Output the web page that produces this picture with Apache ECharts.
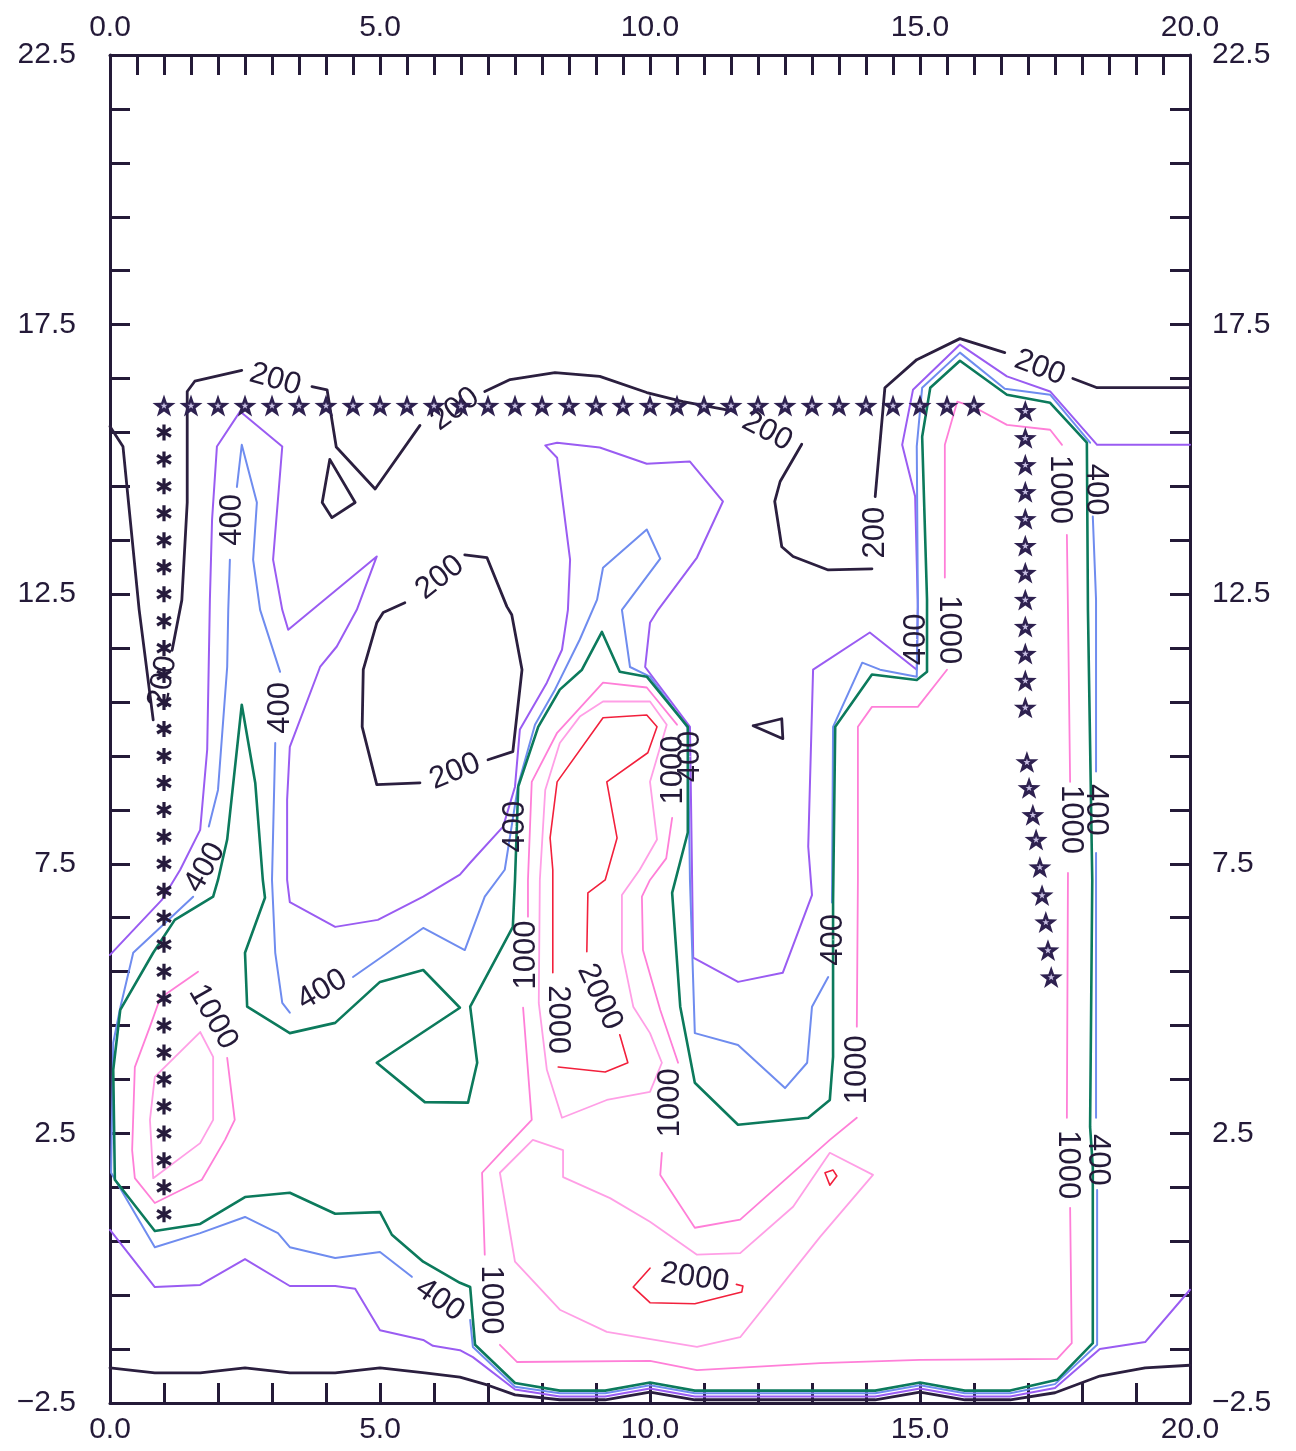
<!DOCTYPE html>
<html><head><meta charset="utf-8">
<script src="https://cdn.jsdelivr.net/npm/echarts@6/dist/echarts.min.js"></script>
<style>html,body{margin:0;padding:0;background:#fff}#c{width:1296px;height:1451px}</style>
</head><body><div id="c"></div>
<script>
// ---------- tick labels ----------
const xTickLabels = [0, 5, 10, 15, 20];
const yTickLabels = [-2.5, 2.5, 7.5, 12.5, 17.5, 22.5];

// ---------- level 200 (black) ----------
const c200_a = [[0,15.61],[0.24,15.24],[0.54,12.21],[0.80,10.17]];
const c200_b = [[1.15,11.46],[1.33,12.39],[1.43,14.2],[1.43,16.26],[1.57,16.45],[2.44,16.65]];
const c200_c = [[3.74,16.35],[4.02,16.29],[4.19,15.23],[4.91,14.45],[5.74,15.63]];
const c200_d = [[6.94,16.26],[7.41,16.48],[8.24,16.61],[9.07,16.54],[9.94,16.24],[10.61,16.07],[11.57,15.89]];
const c200_e = [[12.81,15.28],[12.41,14.59],[12.31,14.22],[12.44,13.38],[12.65,13.2],[13.3,12.95],[14.11,12.97]];
const c200_f = [[14.17,14.31],[14.35,16.33],[14.94,16.85],[15.74,17.24],[16.57,16.98]];
const c200_g = [[17.83,16.5],[18.28,16.33],[20,16.33]];
const c200_tri1 = [[4.07,15.0],[4.54,14.2],[4.11,13.92],[3.93,14.2],[4.07,15.0]];
const c200_loopA = [[6.57,13.23],[6.98,13.18],[7.35,12.27],[7.44,12.12],[7.63,11.1],[7.46,9.58],[7.0,9.43]];
const c200_loopB = [[5.74,9.0],[4.94,8.97],[4.67,10.04],[4.69,11.1],[4.94,11.97],[5.06,12.16],[5.46,12.34]];
const c200_tri2 = [[11.91,10.06],[12.44,10.19],[12.46,9.82],[11.91,10.06]];
const c200_bottom = [[0,-1.85],[0.83,-1.94],[1.67,-1.94],[2.5,-1.85],[3.33,-1.94],[4.17,-1.94],[5.0,-1.85],[5.83,-1.94],[6.48,-2.02],[7.0,-2.17],[7.5,-2.35],[8.33,-2.44],[9.17,-2.44],[10,-2.3],[10.83,-2.44],[11.67,-2.44],[12.5,-2.44],[13.33,-2.44],[14.17,-2.44],[15,-2.3],[15.83,-2.44],[16.67,-2.44],[17.5,-2.31],[18.33,-2.0],[19.17,-1.85],[20,-1.8]];

// ---------- level 300 (purple) ----------
const c300_a = [[0,5.81],[0.96,6.83],[1.3,7.39],[1.67,8.13],[1.8,9.62],[1.85,12.4],[1.89,13.88],[1.98,15.24],[2.41,15.89],[3.19,15.24],[3.02,13.14],[3.19,12.21],[3.3,11.84],[4.94,13.2],[4.57,12.21],[4.2,11.53],[3.89,11.15],[3.33,9.67],[3.28,8.69],[3.28,7.2],[3.33,6.79],[4.17,6.33],[4.96,6.46],[5.8,6.89],[6.48,7.3],[6.67,7.52],[7.28,8.19],[7.5,8.93],[7.59,9.99],[8.09,10.86],[8.37,11.47],[8.48,12.21],[8.52,13.14],[8.28,15.03],[8.06,15.26],[8.28,15.31],[9.07,15.22],[9.94,14.92],[10.74,14.96],[11.35,14.22],[10.87,13.18],[10.15,12.21],[10.0,11.97],[9.91,11.15],[10.74,10.04],[10.78,7.2],[10.8,5.76],[11.63,5.31],[12.46,5.48],[13.0,6.92],[12.93,7.82],[13.02,11.1],[14.07,11.79],[14.94,11.1],[14.96,12.27],[14.91,14.31],[14.67,15.27],[14.87,16.29],[15.74,17.13],[16.61,16.54],[17.41,16.26],[18.28,15.27],[20,15.27]];
const c300_b = [[0,0.71],[0.83,-0.35],[1.67,-0.31],[2.5,0.17],[3.33,-0.33],[4.17,-0.33],[4.54,-0.38],[5.0,-1.15],[5.8,-1.33],[5.98,-1.44],[6.48,-1.52],[6.72,-1.65],[7.5,-2.25],[8.33,-2.38],[9.17,-2.38],[10,-2.23],[10.83,-2.38],[11.67,-2.38],[12.5,-2.38],[13.33,-2.38],[14.17,-2.38],[15,-2.23],[15.83,-2.38],[16.67,-2.38],[17.5,-2.22],[18.33,-1.5],[19.17,-1.37],[20,-0.4]];

// ---------- level 400 (blue) ----------
const c400_a = [[5.59,-0.16],[5.0,0.30],[4.17,0.19],[3.33,0.39],[3.11,0.65],[2.5,0.95],[1.67,0.65],[0.83,0.39],[0.02,1.77],[0.06,4.18],[0.19,4.83],[0.43,5.85],[1.54,6.89]];
const c400_b = [[1.83,8.19],[2.0,8.87],[2.17,11.15],[2.19,12.21],[2.22,13.14]];
const c400_c = [[2.35,14.49],[2.44,15.27],[2.72,14.2],[2.65,13.14],[2.78,12.21],[3.15,11.06]];
const c400_d = [[3.06,9.74],[3.0,7.2],[3.06,5.85],[3.19,4.92],[3.33,4.74]];
const c400_e = [[4.5,5.4],[5.8,6.31],[6.57,5.9],[6.94,6.89],[7.31,7.39],[7.56,8.97],[7.87,10.08],[8.24,10.73],[8.7,11.66],[9.02,12.4],[9.13,12.99],[9.94,13.7],[10.19,13.16],[9.48,12.21],[9.63,11.15],[10.0,10.97],[10.7,10.02],[10.74,7.2],[10.83,4.36],[11.63,4.14],[12.5,3.34],[12.91,3.81],[13.0,4.85],[13.3,5.4]];
const c400_f = [[13.37,6.78],[13.39,10.04],[13.93,11.23],[14.26,11.1],[14.94,10.97],[14.96,12.4],[14.94,15.24],[15.04,16.33],[15.74,16.98],[16.57,16.31],[17.41,16.2],[18.15,15.31]];
const c400_g = [[18.2,13.94],[18.26,12.4],[18.26,9.21]];
const c400_h = [[18.26,7.7],[18.26,2.79]];
const c400_i = [[18.28,1.45],[18.28,-1.42],[17.5,-2.15],[16.67,-2.32],[15.83,-2.32],[15,-2.17],[14.17,-2.32],[13.33,-2.32],[12.5,-2.32],[11.67,-2.32],[10.83,-2.32],[10,-2.17],[9.17,-2.32],[8.33,-2.32],[7.5,-2.2],[6.72,-1.46],[6.67,-0.96]];

// ---------- level 500 (green) ----------
const c500_a = [[2.44,10.45],[2.69,9.0],[2.83,7.2],[2.87,6.87],[2.5,5.85],[2.54,4.85],[3.33,4.36],[4.17,4.55],[5.0,5.31],[5.8,5.53],[6.48,4.83],[4.94,3.81],[5.83,3.08],[6.63,3.07],[6.8,3.81],[6.67,4.85],[7.46,6.33],[7.5,7.2],[7.56,8.93],[7.93,10.04],[8.33,10.73],[8.74,11.1],[9.11,11.8],[9.44,11.06],[9.94,10.97],[10.7,10.04],[10.7,8.08],[10.41,6.96],[10.56,4.85],[10.83,3.44],[11.63,2.66],[12.93,2.79],[13.33,3.12],[13.39,3.92],[13.39,6.78],[13.43,10.04],[14.11,11.01],[14.94,10.91],[15.13,11.06],[15.13,12.4],[15.04,15.42],[15.19,16.33],[15.74,16.83],[16.61,16.2],[17.41,16.05],[18.09,15.31],[18.11,12.21],[18.19,7.2],[18.15,2.62],[18.2,1.88],[18.2,-1.39],[17.54,-2.07],[16.67,-2.27],[15.83,-2.27],[15,-2.12],[14.17,-2.27],[13.33,-2.27],[12.5,-2.27],[11.67,-2.27],[10.83,-2.27],[10,-2.12],[9.17,-2.27],[8.33,-2.27],[7.5,-2.13],[6.76,-1.42],[6.67,-0.35],[6.48,-0.27],[5.8,0.12],[5.22,0.62],[5.0,1.04],[4.17,1.01],[3.33,1.4],[2.5,1.32],[1.67,0.82],[0.83,0.69],[0.09,1.64],[0.06,3.68],[0.19,4.79],[0.8,5.85],[1.2,6.46],[1.91,6.89],[2.0,7.2],[2.17,7.95],[2.44,10.45]];

// ---------- level 1000 (pink) ----------
const c1000_a = [[7.74,6.52],[7.74,7.2],[7.81,9.02],[8.28,9.93],[9.13,10.86],[9.94,10.77],[10.5,10.08]];
const c1000_b = [[10.41,8.35],[10.3,7.6],[10.0,7.2],[9.85,6.89],[9.87,5.9],[10.19,4.79],[10.52,3.81]];
const c1000_c = [[10.22,2.14],[10.19,1.73],[10.83,0.75],[11.67,0.9],[13.33,2.38],[13.83,2.79]];
const c1000_d = [[13.83,4.48],[13.85,7.2],[13.85,10.04],[14.11,10.41],[14.96,10.41],[15.5,11.1]];
const c1000_e = [[15.46,12.81],[15.46,15.27],[15.69,16.07],[15.98,15.98],[16.61,15.64],[17.41,15.55],[17.63,15.27]];
const c1000_f = [[17.72,13.6],[17.74,12.21],[17.78,9.02]];
const c1000_g = [[17.74,7.33],[17.72,2.79]];
const c1000_h = [[17.78,1.12],[17.81,-1.39],[17.54,-1.68],[15.0,-1.7],[13.15,-1.76],[10.87,-1.89],[10.0,-1.72],[7.54,-1.74],[7.22,-1.42]];
const c1000_i = [[6.94,0.25],[6.89,1.77],[7.28,2.19],[7.81,2.75],[7.65,4.83]];
const c1000_left = [[2.17,3.9],[2.31,2.75],[2.13,2.38],[1.7,1.64],[0.83,1.21],[0.46,1.67],[0.41,2.19],[0.46,3.73],[0.74,4.48],[0.93,5.01],[1.63,5.5]];

// ---------- level 1500 (light pink) ----------
const c1500_mid = [[7.96,7.2],[8.06,8.87],[8.33,9.74],[8.7,10.23],[9.13,10.51],[10.0,10.51],[10.31,10.08],[10.0,9.02],[10.13,7.95],[9.81,7.39],[9.48,6.92],[9.48,5.87],[9.69,4.85],[10.0,4.36],[10.22,3.81],[10.0,3.27],[9.2,3.12],[8.37,2.79],[8.09,3.68],[7.94,4.92],[7.96,7.2]];
const c1500_low = [[8.39,2.19],[8.39,1.69],[9.26,1.3],[10.0,0.86],[10.87,0.25],[11.67,0.28],[12.65,1.14],[13.33,2.14],[14.13,1.73],[13.15,0.58],[11.67,-1.28],[10.87,-1.46],[9.2,-1.18],[8.33,-0.77],[7.5,0.12],[7.22,1.77],[7.83,2.38],[8.39,2.19]];
const c1500_left = [[1.67,4.38],[0.83,3.55],[0.74,2.75],[0.8,1.67],[1.67,2.32],[1.91,2.75],[1.91,3.92],[1.67,4.38]];

// ---------- level 2000 (red) ----------
const c2000_a = [[8.2,5.48],[8.2,7.39],[8.15,7.98],[8.28,9.02],[9.13,10.21],[9.94,10.26],[10.13,10.04],[9.96,9.56],[9.2,9.02],[9.39,7.98],[9.17,7.2],[8.85,6.96],[8.83,5.87]];
const c2000_b = [[9.44,4.33],[9.59,3.81],[9.17,3.64],[8.3,3.73]];
const c2000_c = [[10.0,0.0],[9.69,-0.35],[10.0,-0.64],[10.83,-0.66],[11.7,-0.44],[11.72,-0.33],[11.6,-0.3]];
const c2000_d = [[13.24,1.77],[13.39,1.82],[13.46,1.71],[13.33,1.54],[13.24,1.77]];

// ---------- contour labels [x, y, angle] ----------
const lab200 = [[3.06,16.48,-16],[6.39,15.93,36],[12.17,15.52,-28],[14.17,13.64,90],[17.22,16.7,-21],[6.11,12.81,38],[6.39,9.21,22],[0.98,10.88,80]];
const lab400 = [[2.26,13.88,90],[3.15,10.39,90],[1.76,7.43,60],[3.93,5.16,30],[6.11,-0.59,-35],[7.5,8.19,90],[10.74,9.49,90],[14.94,11.66,90],[13.39,6.09,90],[18.26,14.44,-90],[18.26,8.5,-90],[18.28,2.01,-90]];
const lab1000 = [[1.91,4.66,-60],[7.72,5.81,90],[7.04,-0.59,-90],[10.43,9.24,90],[10.37,3.07,90],[13.85,3.68,90],[15.52,11.84,-90],[17.59,14.44,-90],[17.78,8.32,-90],[17.74,1.92,-90]];
const lab2000 = [[9.07,5.03,-65],[8.28,4.61,-90],[10.83,-0.18,-8]];

// ---------- star markers ----------
const starTopX = [1.0,1.5,2.0,2.5,3.0,3.5,4.0,4.5,5.0,5.5,6.0,6.5,7.0,7.5,8.0,8.5,9.0,9.5,10.0,10.5,11.0,11.5,12.0,12.5,13.0,13.5,14.0,14.5,15.0,15.5,16.0];
const starTopY = 16.0;
const astLeftY = [15.5,15.0,14.5,14.0,13.5,13.0,12.5,12.0,11.5,11.0,10.5,10.0,9.5,9.0,8.5,8.0,7.5,7.0,6.5,6.0,5.5,5.0,4.5,4.0,3.5,3.0,2.5,2.0,1.5,1.0];
const astLeftX = 1.0;
const starRight = [[16.95,15.9],[16.95,15.4],[16.95,14.9],[16.95,14.4],[16.95,13.9],[16.95,13.4],[16.95,12.9],[16.95,12.4],[16.95,11.9],[16.95,11.4],[16.95,10.9],[16.95,10.4],[16.98,9.39],[17.02,8.91],[17.09,8.41],[17.15,7.95],[17.22,7.44],[17.26,6.92],[17.33,6.42],[17.37,5.9],[17.43,5.4]];

// ================= build =================
const INK = '#241a38';
const COL = {c200:'#2b1f3f', c300:'#9a5cf2', c400:'#6f8cef', c500:'#0c7a5c', c1000:'#ff7fd8', c1500:'#ff9fe6', c2000:'#f2203c'};
const YS = 2.5; // y axis is drawn on 0..25 so that ticks sit on -2.5, -1.5, ...
const sh = p => [p[0], p[1] + YS];
const series = [];
function addLines(list, color, width){
  list.forEach(pts => series.push({type:'line', data: pts.map(sh), symbol:'none', silent:true, animation:false,
    lineStyle:{color, width, cap:'round', join:'round', opacity:1}, z:2}));
}
addLines([c200_a,c200_b,c200_c,c200_d,c200_e,c200_f,c200_g,c200_tri1,c200_loopA,c200_loopB,c200_tri2,c200_bottom], COL.c200, 2.8);
addLines([c300_a,c300_b], COL.c300, 2);
addLines([c400_a,c400_b,c400_c,c400_d,c400_e,c400_f,c400_g,c400_h,c400_i], COL.c400, 2);
addLines([c500_a], COL.c500, 2.6);
addLines([c1000_a,c1000_b,c1000_c,c1000_d,c1000_e,c1000_f,c1000_g,c1000_h,c1000_i,c1000_left], COL.c1000, 1.8);
addLines([c1500_mid,c1500_low,c1500_left], COL.c1500, 1.8);
addLines([c2000_a,c2000_b,c2000_c,c2000_d], COL.c2000, 1.6);

function addLabels(list, text){
  series.push({type:'scatter', symbol:'circle', symbolSize:1, silent:true, animation:false, z:5,
    itemStyle:{color:'#ffffff', opacity:1},
    data: list.map(l => ({value: sh([l[0], l[1]]), label:{rotate:l[2]}})),
    label:{show:true, position:'inside', formatter:text, fontSize:31, color:INK, opacity:1,
      textBorderWidth:0, textBorderColor:'transparent', textShadowBlur:0,
      fontFamily:'Liberation Sans, Arial, sans-serif'}});
}
addLabels(lab200,'200'); addLabels(lab400,'400'); addLabels(lab1000,'1000'); addLabels(lab2000,'2000');

const STAR = 'path://M0,-10L2.35,-3.24L9.51,-3.09L3.8,1.24L5.88,8.09L0,4L-5.88,8.09L-3.8,1.24L-9.51,-3.09L-2.35,-3.24Z';
const AST = 'path://M-1.6,-8L1.6,-8L1.6,8L-1.6,8ZM6.13,-5.39L7.73,-2.61L-6.13,5.39L-7.73,2.61ZM-7.73,-2.61L-6.13,-5.39L7.73,2.61L6.13,5.39Z';
const starPts = starTopX.map(x => [x, starTopY]).concat(starRight);
series.push({type:'scatter', symbol:STAR, symbolKeepAspect:true, symbolSize:23, silent:true, animation:false, z:6,
  itemStyle:{color:'#2e2150', opacity:1}, data: starPts.map(sh)});
series.push({type:'scatter', symbol:STAR, symbolKeepAspect:true, symbolSize:7, silent:true, animation:false, z:7,
  itemStyle:{color:'#c9c1e4', opacity:1}, data: starPts.map(sh)});
series.push({type:'scatter', symbol:AST, symbolKeepAspect:true, symbolSize:16, silent:true, animation:false, z:6,
  itemStyle:{color:'#261b3c', opacity:1}, data: astLeftY.map(y => sh([astLeftX, y]))});

const fmtNum = r => (r < 0 ? '\u2212' : '') + Math.abs(r).toFixed(1);
function xAxisCfg(pos, step){
  return {type:'value', position:pos, min:0, max:20, interval:step, splitLine:{show:false},
    axisLine:{onZero:false, lineStyle:{color:INK, width:3}},
    axisTick:{inside:true, length:20, lineStyle:{color:INK, width:3}},
    axisLabel:{fontSize:30, color:INK, fontFamily:'Liberation Sans, Arial, sans-serif', margin:12,
      formatter: v => xTickLabels.some(t => Math.abs(t - v) < 1e-6) ? fmtNum(v) : ''}};
}
function yAxisCfg(pos){
  return {type:'value', position:pos, min:0, max:25, interval:1, splitLine:{show:false},
    axisLine:{onZero:false, lineStyle:{color:INK, width:3}},
    axisTick:{inside:true, length:20, lineStyle:{color:INK, width:3}},
    axisLabel:{fontSize:30, color:INK, fontFamily:'Liberation Sans, Arial, sans-serif', margin:pos==='left'?34:22,
      formatter: v => { const r = v - YS; return yTickLabels.some(t => Math.abs(t - r) < 1e-6) ? fmtNum(r) : ''; }}};
}

const chart = echarts.init(document.getElementById('c'), null, {renderer:'canvas'});
chart.setOption({
  animation:false, backgroundColor:'#ffffff',
  grid:{left:110, right:106, top:55, bottom:48, containLabel:false},
  xAxis:[xAxisCfg('bottom', 1), xAxisCfg('top', 0.5)],
  yAxis:[yAxisCfg('left'), yAxisCfg('right')],
  series: series
});
</script></body></html>
